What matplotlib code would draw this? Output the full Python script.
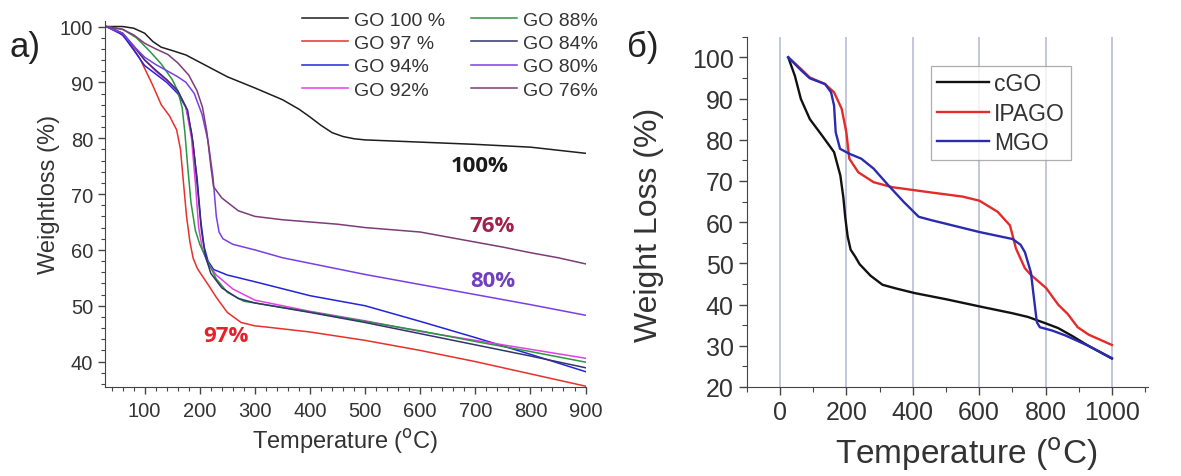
import matplotlib
matplotlib.use("Agg")
import matplotlib.pyplot as plt
from matplotlib.ticker import MultipleLocator

plt.rcParams['font.family'] = ['Liberation Sans', 'DejaVu Sans']

# ---- panel a): GO samples ----
x100 = [30, 60, 80, 100, 115, 130, 150, 175, 200, 250, 300, 350, 380, 400, 420, 440, 460, 480, 500, 550, 600, 700, 800, 900]
y100 = [100, 100, 99.7, 98.8, 97.3, 96.3, 95.7, 94.9, 93.6, 91.0, 89.0, 86.9, 85.2, 83.8, 82.3, 81.0, 80.3, 79.9, 79.7, 79.5, 79.3, 78.9, 78.4, 77.3]

x97 = [30, 50, 70, 90, 100, 115, 130, 145, 158, 165, 170, 176, 182, 188, 195, 200, 215, 230, 250, 275, 300, 320, 400, 500, 600, 700, 800, 900]
y97 = [100, 99.3, 97.5, 94.5, 92.5, 89.4, 86.0, 84.0, 81.5, 78.0, 72.5, 66.0, 61.5, 58.5, 56.8, 56.0, 53.8, 51.5, 48.8, 47.0, 46.4, 46.2, 45.3, 43.8, 42.0, 40.0, 37.8, 35.6]

x94 = [30, 60, 80, 100, 120, 140, 160, 175, 185, 195, 202, 208, 215, 225, 250, 300, 400, 500, 600, 700, 800, 900]
y94 = [100, 98.5, 95.8, 93.0, 91.5, 90.0, 88.0, 85.5, 81.0, 73.0, 65.0, 60.5, 58.0, 56.5, 55.5, 54.3, 51.8, 50.0, 47.2, 44.3, 41.3, 38.2]

x92 = [30, 60, 80, 100, 120, 140, 160, 175, 185, 192, 198, 205, 215, 230, 260, 300, 400, 500, 600, 700, 800, 900]
y92 = [100, 98.8, 96.5, 94.0, 92.0, 90.3, 88.5, 85.5, 80.0, 72.0, 64.0, 60.0, 57.5, 55.5, 53.0, 51.0, 49.0, 47.3, 45.4, 43.8, 42.2, 40.6]

x88 = [30, 60, 85, 110, 130, 150, 160, 168, 173, 178, 184, 192, 200, 212, 230, 250, 280, 300, 400, 500, 600, 700, 800, 900]
y88 = [100, 99.5, 98.0, 95.5, 93.3, 90.5, 88.5, 85.5, 81.0, 75.0, 68.5, 63.5, 61.0, 58.4, 54.8, 52.4, 50.8, 50.5, 48.9, 47.2, 45.5, 43.6, 41.8, 39.9]

x84 = [30, 60, 80, 100, 120, 140, 160, 178, 188, 196, 203, 210, 220, 240, 270, 300, 400, 500, 600, 700, 800, 900]
y84 = [100, 98.8, 96.5, 94.0, 92.2, 90.5, 88.5, 85.0, 79.0, 71.0, 63.5, 59.0, 55.8, 53.2, 51.3, 50.5, 48.8, 47.0, 45.0, 43.0, 41.0, 38.9]

x80 = [30, 60, 80, 100, 120, 142, 160, 175, 190, 204, 215, 224, 230, 235, 242, 260, 300, 350, 400, 500, 600, 700, 800, 900]
y80 = [100, 98.8, 96.5, 94.5, 93.2, 92.0, 91.0, 90.0, 88.0, 84.3, 79.5, 73.0, 66.0, 63.2, 62.0, 61.0, 60.0, 58.6, 57.6, 55.6, 53.8, 52.0, 50.2, 48.3]

x76 = [30, 60, 80, 100, 120, 142, 160, 180, 195, 205, 213, 220, 225, 240, 270, 300, 350, 400, 450, 500, 550, 600, 650, 700, 750, 800, 850, 900]
y76 = [100, 99.5, 98.5, 97.0, 96.0, 95.0, 93.5, 91.3, 88.5, 85.5, 81.0, 75.0, 71.3, 69.3, 67.0, 66.0, 65.4, 65.0, 64.6, 64.0, 63.6, 63.2, 62.3, 61.4, 60.5, 59.5, 58.6, 57.5]

go_series = [
    ("GO 100 %", x100, y100, "#1e1e1e"),
    ("GO 97 %", x97, y97, "#e8302c"),
    ("GO 94%", x94, y94, "#2424d8"),
    ("GO 92%", x92, y92, "#e53ee5"),
    ("GO 88%", x88, y88, "#2b9640"),
    ("GO 84%", x84, y84, "#33336e"),
    ("GO 80%", x80, y80, "#7a3ee6"),
    ("GO 76%", x76, y76, "#7c3c78"),
]

notes = [("100%", 707, 75.2, "#1a1a1a"), ("76%", 731, 64.4, "#a3204c"),
         ("80%", 731, 54.6, "#7040c0"), ("97%", 248, 44.7, "#e8202a")]

# ---- panel б): cGO / IPAGO / MGO ----
xc = [25, 45, 63, 90, 127, 163, 182, 191, 197, 204, 213, 227, 240, 273, 309, 350, 405, 500, 610, 700, 747, 802, 838, 880, 929, 1000]
yc = [100, 95.5, 89.9, 85.0, 81.0, 77.0, 71.3, 66.0, 61.0, 56.5, 53.3, 51.6, 49.8, 47.0, 44.8, 43.9, 42.8, 41.3, 39.4, 37.9, 37.0, 35.4, 34.3, 32.4, 30.0, 26.9]

xi = [25, 63, 90, 136, 163, 186, 200, 209, 236, 282, 337, 446, 550, 601, 656, 693, 711, 738, 756, 802, 838, 867, 897, 930, 1000]
yi = [100, 97.2, 95.1, 93.5, 91.5, 87.5, 81.8, 75.4, 72.1, 69.7, 68.5, 67.3, 66.2, 65.2, 62.5, 59.2, 53.6, 48.8, 47.2, 44.0, 40.0, 37.7, 34.5, 32.7, 30.2]

xm = [25, 63, 90, 136, 154, 163, 168, 181, 209, 245, 282, 327, 373, 418, 455, 601, 701, 725, 738, 756, 766, 774, 783, 820, 860, 929, 1000]
ym = [100, 96.9, 94.9, 93.5, 91.5, 88.3, 81.8, 77.8, 76.6, 75.4, 73.0, 68.9, 64.9, 61.3, 60.5, 57.6, 55.9, 54.5, 52.7, 47.8, 41.0, 35.7, 34.5, 33.7, 32.5, 30.0, 27.0]

b_series = [("cGO", xc, yc, "#111111"), ("IPAGO", xi, yi, "#e52a2a"), ("MGO", xm, ym, "#2b2bb0")]

fig = plt.figure(figsize=(11.81, 4.77), dpi=100)

# panel a
ax1 = fig.add_axes([0.0889, 0.186, 0.4069, 0.768])
for name, xs, ys, col in go_series:
    ax1.plot(xs, ys, color=col, lw=1.1, label=name)
ax1.set_xlim(28, 900)
ax1.set_ylim(35.4, 101)
ax1.set_xticks(range(100, 1000, 100))
ax1.set_yticks(range(40, 101, 10))
ax1.xaxis.set_minor_locator(MultipleLocator(20))
ax1.yaxis.set_minor_locator(MultipleLocator(2))
for s in ("top", "right"):
    ax1.spines[s].set_visible(False)
for s in ("left", "bottom"):
    ax1.spines[s].set_color("#444444")
ax1.tick_params(which="major", length=5, width=1, color="#444444", labelsize=14.5, colors="#333333")
ax1.tick_params(axis="x", which="major", pad=5)
ax1.tick_params(which="minor", length=3, width=0.8, color="#444444")
ax1.set_xlabel("Temperature ($^{\\mathrm{o}}$C)", fontsize=17, color="#333333")
ax1.xaxis.set_label_coords(0.5, -0.105)
ax1.set_ylabel("Weightloss (%)", fontsize=17, color="#333333")
ax1.yaxis.set_label_coords(-0.094, 0.53)
for txt, tx, ty, col in notes:
    ax1.text(tx, ty, txt, color=col, fontsize=16, fontweight="bold",
             family=["Open Sans", "DejaVu Sans"], ha="center", va="center")
ax1.legend(ncol=2, frameon=False, fontsize=14, loc="upper left",
           bbox_to_anchor=(0.2557, 0.975), bbox_transform=fig.transFigure,
           borderaxespad=0, borderpad=0, handlelength=2.35, handletextpad=0.35,
           columnspacing=1.3, labelspacing=0.3, labelcolor="#333333")
fig.text(0.008, 0.9, "а)", fontsize=25, color="#222222", va="center")

# panel б
ax2 = fig.add_axes([0.6323, 0.1866, 0.3401, 0.7344])
for v in range(0, 1001, 200):
    ax2.axvline(v, color="#b4b6d2", lw=1.1, zorder=0)
for name, xs, ys, col in b_series:
    ax2.plot(xs, ys, color=col, lw=1.7, label=name)
ax2.set_xlim(-100, 1110)
ax2.set_ylim(20, 105)
ax2.set_xticks(range(0, 1001, 200))
ax2.set_yticks(range(20, 101, 10))
ax2.xaxis.set_minor_locator(MultipleLocator(100))
ax2.yaxis.set_minor_locator(MultipleLocator(5))
for s in ("top", "right"):
    ax2.spines[s].set_visible(False)
for s in ("left", "bottom"):
    ax2.spines[s].set_color("#444444")
ax2.tick_params(which="major", length=6, width=1, color="#444444", labelsize=18, colors="#333333")
ax2.tick_params(which="minor", length=3.5, width=0.8, color="#444444")
ax2.set_xlabel("Temperature ($^{\\mathrm{o}}$C)", fontsize=24, color="#333333")
ax2.xaxis.set_label_coords(0.546, -0.135)
ax2.set_ylabel("Weight Loss (%)", fontsize=23, color="#333333")
ax2.yaxis.set_label_coords(-0.205, 0.465)
leg = ax2.legend(frameon=True, fancybox=False, fontsize=16.5, loc="upper left",
                 bbox_to_anchor=(931 / 1181, (477 - 67) / 477), bbox_transform=fig.transFigure,
                 borderaxespad=0, borderpad=0.25, handlelength=2.3, handletextpad=0.2,
                 labelspacing=0.3, labelcolor="#333333")
leg.get_frame().set_edgecolor("#9a9a9a")
leg.get_frame().set_linewidth(0.9)
fig.text(0.531, 0.9, "б)", fontsize=25, color="#222222", va="center")

fig.savefig("out.png", dpi=100)
